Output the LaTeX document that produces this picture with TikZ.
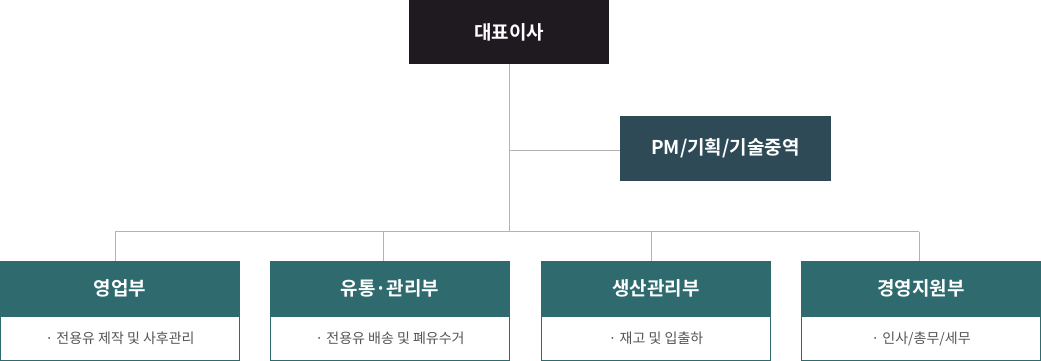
\documentclass[tikz,border=0pt]{standalone}
\usepackage{fontspec}
\setmainfont{Noto Sans CJK KR}
\newfontfamily\krbold{Noto Sans CJK KR Bold}
\definecolor{ceoC}{HTML}{1F1A1F}
\definecolor{pmC}{HTML}{2E4A57}
\definecolor{tealC}{HTML}{2F6B6E}
\definecolor{lineC}{HTML}{B3B3B3}
\definecolor{txtC}{HTML}{555555}
\begin{document}
\begin{tikzpicture}[x=1pt,y=-1pt,
  conn/.style={draw=lineC, line width=1pt},
  ceobox/.style={fill=ceoC, text=white, minimum width=200pt, minimum height=64pt, inner sep=0pt, font=\krbold\fontsize{19}{22}\selectfont},
  pmbox/.style={fill=pmC, text=white, minimum width=210.5pt, minimum height=64.5pt, inner sep=0pt, font=\krbold\fontsize{19}{22}\selectfont},
  headbox/.style={fill=tealC, text=white, minimum height=55.7pt, inner sep=0pt, font=\krbold\fontsize{19}{22}\selectfont},
  bodybox/.style={draw=tealC, line width=1pt, fill=white, text=txtC, minimum height=43.5pt, inner sep=0pt, font=\fontsize{14}{17}\selectfont}
]
\useasboundingbox (0,0) rectangle (1041,361);
% top
\node[ceobox] (ceo) at (509,32) {대표이사};
\node[pmbox] (pm) at (725.5,148.5) {PM/기획/기술중역};
% boxes
\node[bodybox, minimum width=239pt] (b1) at (120,338.7) {· 전용유 제작 및 사후관리};
\node[bodybox, minimum width=239pt] (b2) at (390,338.7) {· 전용유 배송 및 폐유수거};
\node[bodybox, minimum width=229pt] (b3) at (656,338.7) {· 재고 및 입출하};
\node[bodybox, minimum width=239pt] (b4) at (921,338.7) {· 인사/총무/세무};
\node[headbox, minimum width=240pt] (h1) at (120,288.8) {영업부};
\node[headbox, minimum width=240pt] (h2) at (390,288.8) {유통·관리부};
\node[headbox, minimum width=230pt] (h3) at (656,288.8) {생산관리부};
\node[headbox, minimum width=240pt] (h4) at (921,288.8) {경영지원부};
% connectors
\coordinate (jpm) at (509.3,150);
\coordinate (jbus) at (509.3,231.7);
\coordinate (c1) at (115,231.7);
\coordinate (c2) at (383.3,231.7);
\coordinate (c3) at (651.7,231.7);
\coordinate (c4) at (919.3,231.7);
\draw[conn] (ceo.south -| jbus) -- (jbus);
\draw[conn] (jpm) -- (jpm -| pm.west);
\draw[conn] (c1) -- (c4);
\draw[conn] (c1) -- (c1 |- h1.north);
\draw[conn] (c2) -- (c2 |- h2.north);
\draw[conn] (c3) -- (c3 |- h3.north);
\draw[conn] (c4) -- (c4 |- h4.north);
\end{tikzpicture}
\end{document}
